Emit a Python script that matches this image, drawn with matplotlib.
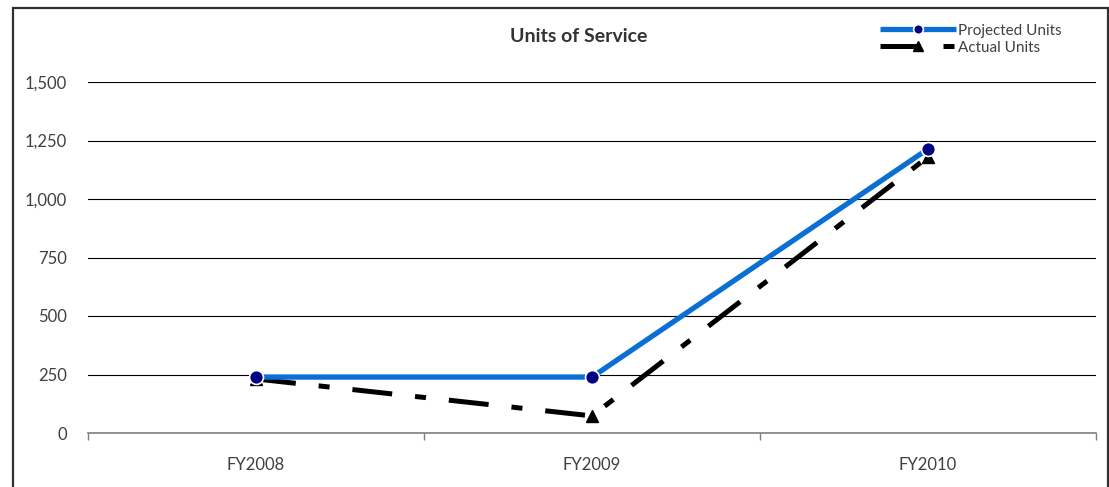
import matplotlib
matplotlib.use("Agg")
import matplotlib.pyplot as plt
from matplotlib.patches import Rectangle
from matplotlib.ticker import FuncFormatter, FixedLocator

categories = ["FY2008", "FY2009", "FY2010"]
projected_units = [239, 239, 1214]
actual_units = [231, 73, 1180]
y_ticks = [0, 250, 500, 750, 1000, 1250, 1500]

plt.rcParams['font.family'] = ['Lato', 'DejaVu Sans']

fig = plt.figure(figsize=(11.09, 4.87), dpi=100)
W, H = 1109, 487
ax = fig.add_axes([88 / W, 1 - 433 / H, (1096 - 88) / W, (433 - 82) / H])

x = list(range(len(categories)))
ax.plot(x, projected_units, color="#0A6FD4", lw=3.8, marker="o", ms=10,
        mfc="#000080", mec="white", mew=1.2, label="Projected Units", zorder=4,
        solid_capstyle="butt")
ax.plot(x, actual_units, color="black", lw=3.6, marker="^", ms=8,
        mfc="black", mec="black", dash_capstyle="butt",
        linestyle=(0, (8, 4.6, 2.2, 4.6)), label="Actual Units", zorder=3)

ax.set_xlim(-0.5, len(categories) - 0.5)
ax.set_ylim(0, 1500)
ax.set_yticks(y_ticks)
ax.yaxis.set_major_formatter(FuncFormatter(lambda v, p: f"{int(v):,}"))
ax.set_xticks(x)
ax.set_xticklabels(categories)
ax.xaxis.set_minor_locator(FixedLocator([-0.5, 0.5, 1.5, 2.5]))
ax.tick_params(axis="x", which="major", length=0, pad=17, labelsize=12, colors="#404040")
ax.tick_params(axis="x", which="minor", length=5, width=1, color="#808080", direction="out")
ax.tick_params(axis="y", length=0, pad=15, labelsize=12, colors="#404040")
for t in ax.get_xticklabels() + ax.get_yticklabels():
    t.set_color("#404040")

for s in ["top", "right", "left"]:
    ax.spines[s].set_visible(False)
ax.spines["bottom"].set_color("#808080")
ax.spines["bottom"].set_linewidth(1.2)
ax.yaxis.grid(True, color="black", lw=0.8)
ax.set_axisbelow(True)

fig.text(579 / W, 1 - 36 / H, "Units of Service", ha="center", va="center",
         fontsize=14, fontweight="bold", color="#333333")

leg = fig.legend(loc="upper left", bbox_to_anchor=(872 / W, 1 - 16 / H),
                 frameon=False, fontsize=11, handlelength=5.0, handletextpad=0.15,
                 labelspacing=0.2, borderpad=0, labelcolor="#404040")
for h, ms in zip(leg.legend_handles, [7, 7]):
    h.set_markersize(ms)

fig.add_artist(Rectangle((12.5 / W, -0.1), (1107.5 - 12.5) / W, 1.1 - 7.5 / H,
                         transform=fig.transFigure, fill=False, ec="#303030", lw=1.6))

fig.savefig("out.png", dpi=100)
